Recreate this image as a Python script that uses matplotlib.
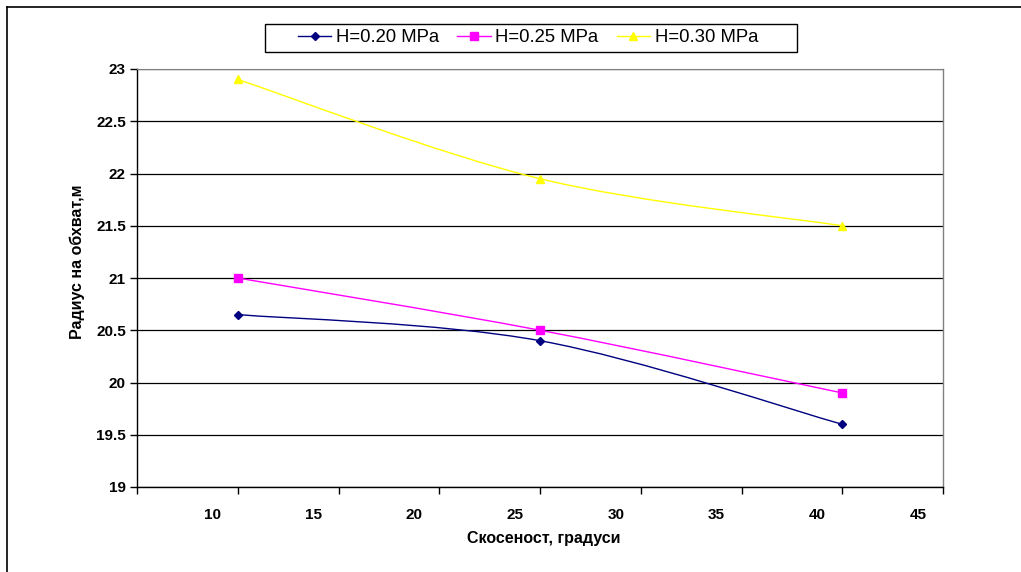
import matplotlib
matplotlib.use("Agg")
import matplotlib.pyplot as plt
from matplotlib.path import Path
from matplotlib.patches import PathPatch, Rectangle
from matplotlib.lines import Line2D
from matplotlib.transforms import ScaledTranslation
import numpy as np

plt.rcParams['font.family'] = ['Liberation Sans', 'DejaVu Sans']

# Data
angles = [10, 25, 40]
h020 = [20.65, 20.40, 19.60]
h025 = [21.00, 20.50, 19.90]
h030 = [22.90, 21.95, 21.50]
series_labels = ['H=0.20 MPa', 'H=0.25 MPa', 'H=0.30 MPa']
x_ticks = [5, 10, 15, 20, 25, 30, 35, 40, 45]
x_tick_labels = ['', '10', '15', '20', '25', '30', '35', '40', '45']
y_ticks = [19, 19.5, 20, 20.5, 21, 21.5, 22, 22.5, 23]
y_tick_labels = ['19', '19.5', '20', '20.5', '21', '21.5', '22', '22.5', '23']
x_label = 'Скосеност, градуси'
y_label = 'Радиус на обхват,м'

colors = ['#000080', '#FF00FF', '#FFFF00']
markers = ['D', 's', '^']
msizes = [4.5, 5.5, 6]

W, H = 1021, 572
fig = plt.figure(figsize=(W/100, H/100), dpi=100)
ax = fig.add_axes([137/W, 1-487/H, (943-137)/W, (487-69)/H])

def smooth_path(xs, ys):
    pts = np.column_stack([xs, ys]).astype(float)
    n = len(pts)
    verts = [pts[0]]
    codes = [Path.MOVETO]
    for i in range(n - 1):
        p0 = pts[i - 1] if i > 0 else pts[i]
        p1 = pts[i]
        p2 = pts[i + 1]
        p3 = pts[i + 2] if i + 2 < n else pts[i + 1]
        c1 = p1 + (p2 - p0) / 6.0
        c2 = p2 - (p3 - p1) / 6.0
        verts += [c1, c2, p2]
        codes += [Path.CURVE4] * 3
    return Path(verts, codes)

for ys, c, m, ms, lab in zip([h020, h025, h030], colors, markers, msizes, series_labels):
    patch = PathPatch(smooth_path(angles, ys), facecolor='none', edgecolor=c,
                      lw=1.0, transform=ax.transData, zorder=3)
    ax.add_patch(patch)
    ax.plot(angles, ys, linestyle='none', marker=m, color=c, markersize=ms,
            markeredgecolor=c, zorder=4)

ax.set_xlim(5, 45)
ax.set_ylim(19, 23)
ax.set_xticks(x_ticks)
ax.set_xticklabels(x_tick_labels, fontsize=11, fontweight='bold')
ax.set_yticks(y_ticks)
ax.set_yticklabels(y_tick_labels, fontsize=11, fontweight='bold')
ax.tick_params(axis='both', direction='out', length=5, width=1, color='black')
ax.tick_params(axis='x', pad=10)
ax.tick_params(axis='y', pad=3)
off = ScaledTranslation(-25/100, 0, fig.dpi_scale_trans)
for lbl in ax.get_xticklabels():
    lbl.set_transform(lbl.get_transform() + off)

for y in y_ticks:
    ax.axhline(y, color='black', lw=0.9, zorder=1)

for s in ['left', 'bottom']:
    ax.spines[s].set_color('black')
    ax.spines[s].set_linewidth(1.0)
ax.spines['top'].set_color('#808080')
ax.spines['right'].set_color('#808080')
ax.spines['right'].set_linewidth(1.0)

ax.set_xlabel(x_label, fontsize=11.5, fontweight='bold')
ax.xaxis.set_label_coords(0.505, -0.105)
ax.set_ylabel(y_label, fontsize=11.5, fontweight='bold')
ax.yaxis.set_label_coords(-0.064, 0.54)

handles = [Line2D([0], [0], color=c, marker=m, markersize=ms, lw=1.0)
           for c, m, ms in zip(colors, markers, msizes)]
leg = fig.legend(handles, series_labels, loc='center', ncol=3,
                 bbox_to_anchor=(528/W, 1-38/H), fontsize=13.3,
                 frameon=False, handlelength=1.8, handletextpad=0.25,
                 columnspacing=1.0, borderpad=0.3)

# legend frame
fig.add_artist(Rectangle((265/W, 1-52/H), (797-265)/W, 28/H, fill=False,
                         edgecolor='black', lw=1.0, transform=fig.transFigure))

# outer chart border
fig.add_artist(Line2D([7/W, 1.0], [1-7/H, 1-7/H], color='black', lw=1.2,
                      transform=fig.transFigure))
fig.add_artist(Line2D([7/W, 7/W], [0, 1-7/H], color='black', lw=1.2,
                      transform=fig.transFigure))

fig.savefig('out.png', dpi=100)
